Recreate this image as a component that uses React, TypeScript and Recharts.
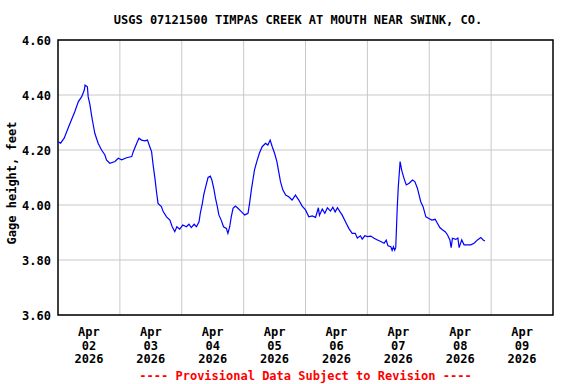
import React from "react";
import {
    LineChart,
    Line,
    XAxis,
    YAxis,
    CartesianGrid,
    ReferenceArea,
} from "recharts";

// hours since Apr 02 2026 00:00
const hours = [
    0, 1, 2.4, 3.9, 5.2, 6.5, 7.9, 9.2, 10.2, 10.5, 11.4, 11.7, 12.4, 13.0, 13.7,
    14.3, 15.6, 16.9, 18.2, 18.8, 20.1, 22.1, 23.4, 24.7, 26.6, 28.6, 29.2, 30.5,
    31.4, 32.4, 33.7, 34.7, 35.6, 36.3, 36.9, 37.6, 38.2, 38.8, 40.1, 40.8, 42.1,
    43.4, 44.3, 45.3, 46.1, 47.2, 48.4, 49.8, 50.8, 51.7, 52.8, 53.7, 54.7, 55.2,
    56.0, 56.5, 57.3, 58.2, 59.1, 59.7, 60.4, 61.1, 61.8, 62.4, 63.3, 64.2, 65.3,
    65.9, 66.6, 67.2, 67.9, 68.8, 69.8, 71.1, 72.4, 73.7, 74.3, 75.0, 75.6, 76.2,
    77.1, 78.1, 79.2, 80.5, 81.4, 82.3, 83.1, 84.0, 84.9, 85.6, 86.3, 87.2, 88.3,
    89.5, 90.8, 92.1, 93.4, 94.7, 96.0, 97.3, 98.6, 99.9, 101.0, 101.4, 102.5,
    103.5, 104.5, 105.7, 106.6, 107.5, 108.4, 109.4, 110.2, 111.5, 112.8, 114.1,
    115.3, 116.1, 117.3, 118.0, 119.0, 120.0, 121.3, 122.6, 123.9, 125.2, 126.5,
    127.3, 128.0, 129.1, 129.6, 130.1, 130.6, 131.0, 131.6, 132.0, 132.7, 133.3,
    134.2, 135.1, 136.2, 137.5, 138.4, 139.4, 140.7, 141.6, 142.7, 143.7, 145.0,
    146.3, 147.2, 148.1, 149.2, 150.2, 151.1, 152.0, 152.5, 153.0, 154.3, 155.1,
    155.6, 156.6, 157.5, 158.8, 160.1, 161.4, 162.7, 164.0, 164.9, 165.6,
];

const gageHeight = [
    4.23, 4.225, 4.243, 4.279, 4.309, 4.339, 4.376, 4.394, 4.418, 4.436, 4.43, 4.394,
    4.364, 4.327, 4.29, 4.26, 4.224, 4.2, 4.182, 4.164, 4.152, 4.158, 4.17, 4.164,
    4.172, 4.176, 4.194, 4.224, 4.243, 4.236, 4.233, 4.236, 4.212, 4.194, 4.145,
    4.097, 4.048, 4.006, 3.994, 3.976, 3.957, 3.945, 3.921, 3.903, 3.921, 3.912,
    3.927, 3.921, 3.93, 3.918, 3.93, 3.921, 3.939, 3.97, 4.006, 4.036, 4.067, 4.1,
    4.105, 4.09, 4.061, 4.024, 3.994, 3.964, 3.945, 3.921, 3.915, 3.897, 3.921,
    3.957, 3.988, 3.996, 3.988, 3.976, 3.964, 3.97, 4.006, 4.055, 4.091, 4.127,
    4.158, 4.188, 4.212, 4.224, 4.218, 4.236, 4.212, 4.188, 4.158, 4.121, 4.085,
    4.055, 4.036, 4.03, 4.018, 4.036, 4.018, 3.996, 3.982, 3.957, 3.96, 3.955, 3.99,
    3.962, 3.985, 3.97, 3.99, 3.978, 3.992, 3.975, 3.99, 3.975, 3.964, 3.939, 3.915,
    3.897, 3.897, 3.88, 3.888, 3.876, 3.888, 3.885, 3.887, 3.879, 3.873, 3.867,
    3.861, 3.872, 3.852, 3.848, 3.835, 3.848, 3.836, 3.845, 3.994, 4.067, 4.158,
    4.127, 4.097, 4.073, 4.079, 4.091, 4.085, 4.061, 4.012, 3.994, 3.957, 3.952,
    3.945, 3.948, 3.933, 3.918, 3.909, 3.903, 3.891, 3.873, 3.845, 3.879, 3.875,
    3.88, 3.845, 3.873, 3.855, 3.855, 3.855, 3.861, 3.873, 3.882, 3.873, 3.869,
];

const dayTicks = [12, 36, 60, 84, 108, 132, 156, 180];
const dayLabels = ["02", "03", "04", "05", "06", "07", "08", "09"];
const midnights = [24, 48, 72, 96, 120, 144, 168];
const yTicks = [3.6, 3.8, 4.0, 4.2, 4.4, 4.6];

const data = hours.map((h, i) => ({ h, v: gageHeight[i] }));

const FONT = "'DejaVu Sans Mono', monospace";

function XTick({ x, y, payload }: any) {
    const idx = dayTicks.indexOf(payload.value);
    return (
        <text x={x} y={y} textAnchor="middle" fontFamily={FONT} fontWeight="bold" fontSize={12} fill="#000">
            <tspan x={x} dy={19}>Apr</tspan>
            <tspan x={x} dy={13.5}>{dayLabels[idx]}</tspan>
            <tspan x={x} dy={13.5}>2026</tspan>
        </text>
    );
}

function YTick({ x, y, payload }: any) {
    return (
        <text x={x} y={y + 4.5} textAnchor="end" fontFamily={FONT} fontWeight="bold" fontSize={12} fill="#000">
            {payload.value.toFixed(2)}
        </text>
    );
}

export default function App() {
    return (
        <div style={{ position: "absolute", left: 0, top: 0, width: 576, height: 384, background: "#fff" }}>
            <LineChart
                width={576}
                height={384}
                data={data}
                margin={{ top: 40, right: 23, left: 0, bottom: 0 }}
            >
                <CartesianGrid
                    stroke="#c8c8c8"
                    strokeWidth={1}
                    verticalValues={midnights}
                    horizontalValues={yTicks}
                />
                <XAxis
                    dataKey="h"
                    type="number"
                    domain={[0, 192]}
                    ticks={dayTicks}
                    interval={0}
                    height={69}
                    tickLine={false}
                    axisLine={false}
                    tickSize={0}
                    tick={<XTick />}
                />
                <YAxis
                    type="number"
                    domain={[3.6, 4.6]}
                    ticks={yTicks}
                    interval={0}
                    width={58}
                    tickLine={false}
                    axisLine={false}
                    tickSize={0}
                    tickMargin={7}
                    tick={<YTick />}
                />
                <Line
                    type="linear"
                    dataKey="v"
                    stroke="#0000ff"
                    strokeWidth={1.2}
                    dot={false}
                    isAnimationActive={false}
                />
                <ReferenceArea
                    x1={0}
                    x2={192}
                    y1={3.6}
                    y2={4.6}
                    fill="none"
                    stroke="#000"
                    strokeWidth={1.5}
                    ifOverflow="visible"
                />
            </LineChart>
            <div style={{ position: "absolute", left: 0, top: 13, width: 596, textAlign: "center", fontFamily: FONT, fontWeight: "bold", fontSize: 12, color: "#000", whiteSpace: "pre" }}>
                USGS 07121500 TIMPAS CREEK AT MOUTH NEAR SWINK, CO.
            </div>
            <div style={{ position: "absolute", left: 0, top: 369, width: 611, textAlign: "center", fontFamily: FONT, fontWeight: "bold", fontSize: 12, color: "#ff0000", whiteSpace: "pre" }}>
                ---- Provisional Data Subject to Revision ----
            </div>
            <div style={{ position: "absolute", left: 12, top: 183, width: 0, height: 0 }}>
                <div style={{ position: "absolute", transform: "translate(-50%, -50%) rotate(-90deg)", fontFamily: FONT, fontWeight: "bold", fontSize: 12, color: "#000", whiteSpace: "pre" }}>
                    Gage height, feet
                </div>
            </div>
        </div>
    );
}
